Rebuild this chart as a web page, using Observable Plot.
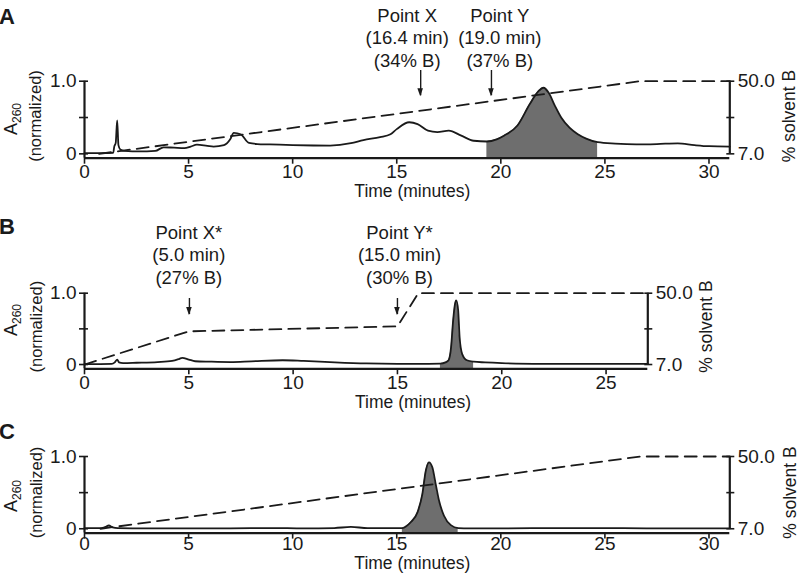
<!DOCTYPE html>
<html><head><meta charset="utf-8">
<script src="https://cdn.jsdelivr.net/npm/d3@7"></script>
<script src="https://cdn.jsdelivr.net/npm/@observablehq/plot@0.6"></script>
<style>
body{margin:0;background:#fff;}
#chart{position:relative;width:800px;height:581px;overflow:hidden;background:#fff;}
</style></head><body><div id="chart"></div>
<script>
// ---------- data ----------
const xTicks = [0, 5, 10, 15, 20, 25, 30];
const leftTicks = [0, 0.5, 1.0];
const leftTickLabels = ["0", "", "1.0"];
const rightTicks = [7.0, 28.5, 50.0];
const rightTickLabels = ["7.0", "", "50.0"];

// Panel A
const timeA = [0, 0.8, 1.38, 1.43, 1.5, 1.57, 1.63, 1.72, 1.9, 2.3, 3.0, 3.4, 3.8, 4.3, 4.8, 5.1, 5.4, 5.9, 6.2, 6.7,
  7.0, 7.17, 7.5, 7.9, 8.3, 8.9, 10.0, 11.0, 11.8, 12.8, 13.4, 14.2, 14.7, 15.0, 15.6, 16.0, 16.5, 16.95, 17.5, 18.1,
  18.7, 19.33, 19.8, 20.15, 20.8, 21.4, 21.8, 22.05, 22.3, 22.6, 22.9, 23.3, 23.7, 24.1, 24.65, 25.5, 26.5, 27.5, 28.5, 29.3,
  30.0, 31.0];
const absA = [0.01, 0.01, 0.015, 0.1, 0.15, 0.46, 0.12, 0.06, 0.04, 0.035, 0.035, 0.04, 0.09, 0.085, 0.08, 0.1, 0.127, 0.11, 0.1, 0.12,
  0.2, 0.29, 0.27, 0.15, 0.135, 0.13, 0.12, 0.115, 0.114, 0.146, 0.19, 0.23, 0.27, 0.34, 0.435, 0.41, 0.32, 0.30, 0.32, 0.25,
  0.18, 0.17, 0.2, 0.25, 0.39, 0.69, 0.86, 0.91, 0.84, 0.66, 0.5, 0.36, 0.27, 0.21, 0.16, 0.14, 0.13, 0.135, 0.145, 0.12,
  0.105, 0.1];
const shadeA = [19.33, 24.65];
const gradTimeA = [0.7, 26.7, 31.0];
const gradPctA = [7, 50, 50];
const annTextA = ["Point X\n(16.4 min)\n(34% B)", "Point Y\n(19.0 min)\n(37% B)"];
const arrowXA = [16.15, 19.55];
const textXA = [15.5, 19.95];

// Panel B
const timeB = [0, 1.3, 1.45, 1.57, 1.65, 1.85, 2.5, 3.5, 4.2, 4.55, 4.68, 5.0, 5.3, 6.0, 7.0, 8.0, 9.5, 10.5, 12.0, 13.5,
  15.0, 16.5, 17.06, 17.3, 17.45, 17.57, 17.67, 17.76, 17.82, 17.91, 17.98, 18.1, 18.33, 18.65, 19.2, 20.0, 22.0, 24.0, 27.0];
const absB = [0.005, 0.01, 0.03, 0.07, 0.03, 0.02, 0.025, 0.035, 0.05, 0.08, 0.094, 0.07, 0.046, 0.04, 0.035, 0.045, 0.06, 0.05, 0.03, 0.015,
  0.01, 0.01, 0.012, 0.03, 0.06, 0.24, 0.62, 0.85, 0.9, 0.76, 0.38, 0.15, 0.06, 0.04, 0.03, 0.02, 0.01, 0.008, 0.008];
const shadeB = [17.06, 18.65];
const gradTimeB = [0, 5, 15, 16, 27];
const gradPctB = [7, 27, 30, 50, 50];
const annTextB = ["Point X*\n(5.0 min)\n(27% B)", "Point Y*\n(15.0 min)\n(30% B)"];
const arrowXB = [5.03, 15.0];
const textXB = [5.0, 15.1];

// Panel C
const timeC = [0, 0.8, 1.0, 1.17, 1.35, 1.6, 3, 5, 7, 9, 10.5, 12, 12.8, 13.6, 14.5, 15.27, 15.67, 16.0, 16.23, 16.4,
  16.55, 16.71, 16.87, 17.03, 17.27, 17.6, 17.95, 18.5, 20, 23, 25, 27, 31];
const absC = [0.01, 0.01, 0.025, 0.045, 0.02, 0.01, 0.005, 0.005, 0.005, 0.01, 0.005, 0.01, 0.025, 0.01, 0.01, 0.01, 0.09, 0.23, 0.48, 0.81,
  0.92, 0.85, 0.62, 0.39, 0.18, 0.05, 0.01, 0.005, 0.005, 0.01, 0.01, 0.005, 0.005];
const shadeC = [15.27, 17.95];
const gradTimeC = [0.77, 26.7, 31.0];
const gradPctC = [7, 50, 50];

// ---------- drawing ----------
const B_MIN = 7, B_MAX = 50, Y_MIN = -0.06;
const toUnit = p => (p - B_MIN) / (B_MAX - B_MIN);
const INK = "#1a1a1a", GRAY = "#6e6e6e";
const FONT = '"Liberation Sans", Arial, Helvetica, sans-serif';

const panels = [
  {key: "A", top: 0, height: 200, mt: 80.7, mb: 42.3, rightPx: 729.3, xMax: 31,
   time: timeA, abs: absA, shade: shadeA, gradTime: gradTimeA, gradPct: gradPctA,
   annText: annTextA, arrowX: arrowXA, textX: textXA,
   L: {annY: 1.605, arrowTop: 1.147, arrowTip: 0.80, tickPad: 0, titleDy: 38.5, letterY: 24,
       a260: [17, 119], norm: [35, 116], solv: [788.5, 116]}},
  {key: "B", top: 200, height: 215, mt: 92.7, mb: 46.7, rightPx: 647.3, xMax: 27,
   time: timeB, abs: absB, shade: shadeB, gradTime: gradTimeB, gradPct: gradPctB,
   annText: annTextB, arrowX: arrowXB, textX: textXB,
   L: {annY: 1.55, arrowTop: 0.926, arrowTip: 0.70, tickPad: 1, titleDy: 39.5, letterY: 34,
       a260: [17, 120], norm: [35.5, 126.7], solv: [705.5, 126.5]}},
  {key: "C", top: 415, height: 166, mt: 41, mb: 48.4, rightPx: 729.3, xMax: 31,
   time: timeC, abs: absC, shade: shadeC, gradTime: gradTimeC, gradPct: gradPctC,
   annText: [], arrowX: [], textX: [],
   L: {annY: 1.5, arrowTop: 1, arrowTip: 0.8, tickPad: -3, titleDy: 36, letterY: 24,
       a260: [17, 81], norm: [35.5, 77.5], solv: [790, 77.5]}}
];

const leftMap = new Map(leftTicks.map((v, i) => [v, leftTickLabels[i]]));
const rTicks = rightTicks.map(toUnit);
const rightMap = new Map(rTicks.map((v, i) => [v, rightTickLabels[i]]));

function drawPanel(P) {
  const L = P.L;
  const trace = P.time.map((t, i) => ({t, a: P.abs[i]}));
  const shaded = trace.filter(d => d.t >= P.shade[0] && d.t <= P.shade[1]);
  const grad = P.gradTime.map((t, i) => ({t, v: toUnit(P.gradPct[i])}));
  const ann = P.arrowX.map((x, i) => ({x, tx: P.textX[i], text: P.annText[i]}));

  const svg = Plot.plot({
    width: 800, height: P.height,
    marginLeft: 84, marginRight: 800 - P.rightPx, marginTop: P.mt, marginBottom: P.mb,
    x: {domain: [0, P.xMax]},
    y: {domain: [Y_MIN, 1]},
    style: {fontFamily: FONT, color: INK, background: "transparent", overflow: "visible"},
    marks: [
      Plot.areaY(shaded, {x: "t", y1: Y_MIN, y2: "a", fill: GRAY, curve: "monotone-x"}),
      Plot.line(trace, {x: "t", y: "a", stroke: INK, strokeWidth: 1.8, curve: "monotone-x"}),
      Plot.line(grad, {x: "t", y: "v", stroke: INK, strokeWidth: 1.8, strokeDasharray: "12,7"}),
      Plot.ruleY([Y_MIN], {x1: 0, x2: P.xMax, stroke: INK, strokeWidth: 2.2}),
      Plot.ruleX([0], {y1: Y_MIN, y2: 1, stroke: INK, strokeWidth: 2.2}),
      Plot.ruleX([P.xMax], {y1: 0, y2: 1, stroke: INK, strokeWidth: 2.2}),
      Plot.axisX({ticks: xTicks.filter(t => t <= P.xMax), tickSize: 6, tickPadding: L.tickPad,
        fontSize: 19, label: null, strokeWidth: 1.6, tickFormat: d => String(d)}),
      Plot.axisY({anchor: "left", ticks: leftTicks, tickFormat: d => leftMap.get(d), tickSize: 9, dx: 4,
        tickPadding: 3, fontSize: 19, label: null, strokeWidth: 1.6}),
      Plot.axisY({anchor: "right", ticks: rTicks, tickFormat: d => rightMap.get(d), tickSize: 8, dx: -4,
        tickPadding: 4, fontSize: 19, label: null, strokeWidth: 1.6}),
      Plot.ruleX(ann, {x: "x", y1: L.arrowTop, y2: L.arrowTip, stroke: INK, strokeWidth: 1.4}),
      Plot.text(ann, {x: "tx", y: L.annY, text: "text", fontSize: 18.5, lineHeight: 1.22,
        lineAnchor: "middle", fill: INK}),
      Plot.text(["Time (minutes)"], {x: 15.75, frameAnchor: "bottom", dy: L.titleDy, fontSize: 17.5, fill: INK})
    ]
  });

  const s = d3.select(svg).style("position", "absolute").style("left", "0px").style("top", P.top + "px");
  const xs = svg.scale("x"), ys = svg.scale("y");
  ann.forEach(d => {
    const px = xs.apply(d.x), py = ys.apply(L.arrowTip) + 1;
    s.append("path").attr("d", `M${px},${py}L${px - 2.8},${py - 8}L${px + 2.8},${py - 8}Z`).attr("fill", INK);
  });
  const a = s.append("text").attr("transform", `translate(${L.a260[0]},${L.a260[1]}) rotate(-90)`)
    .attr("text-anchor", "middle").attr("font-family", FONT).attr("fill", INK);
  a.append("tspan").attr("font-size", 18).text("A");
  a.append("tspan").attr("font-size", 12).attr("dy", 4).text("260");
  s.append("text").attr("transform", `translate(${L.norm[0]},${L.norm[1]}) rotate(-90)`)
    .attr("text-anchor", "middle").attr("dominant-baseline", "central").attr("font-family", FONT)
    .attr("font-size", 16.5).attr("fill", INK).text("(normalized)");
  s.append("text").attr("transform", `translate(${L.solv[0]},${L.solv[1]}) rotate(-90)`)
    .attr("text-anchor", "middle").attr("dominant-baseline", "central").attr("font-family", FONT)
    .attr("font-size", 17.5).attr("fill", INK).text("% solvent B");
  s.append("text").attr("x", 7).attr("y", L.letterY).attr("font-family", FONT).attr("font-weight", "bold")
    .attr("font-size", 22).attr("fill", INK).text(P.key);
  return svg;
}

const root = document.getElementById("chart");
panels.forEach(P => root.appendChild(drawPanel(P)));
</script></body></html>
